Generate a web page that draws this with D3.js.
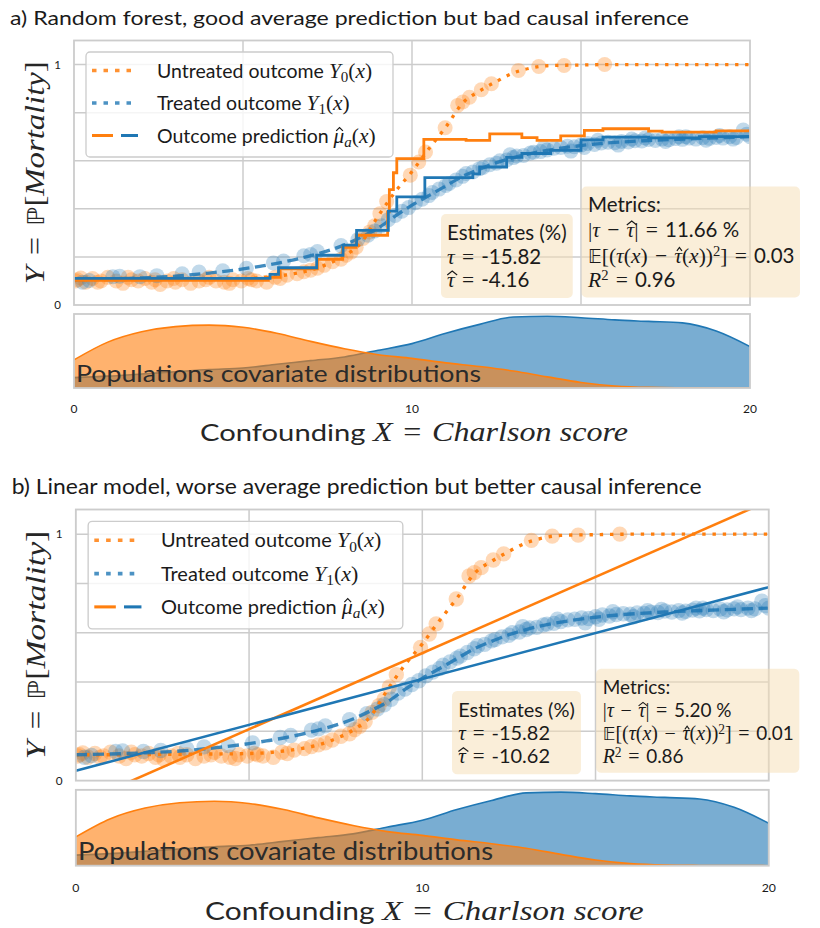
<!DOCTYPE html>
<html><head><meta charset="utf-8">
<script src="https://cdn.jsdelivr.net/npm/d3@7"></script>
<style>body{margin:0;background:#fff}svg{display:block}</style>
</head><body>
<svg id="c" width="820" height="928"></svg>
<script>
// ---------------- DATA ----------------
const curveX      = [0,1,2,3,4,5,5.5,6,6.5,7,7.5,8,8.5,9,9.5,10,10.5,11,11.5,12,12.5,13,13.5,14,15,16,17,18,19,20];
const untreatedY  = [0.105,0.105,0.106,0.107,0.108,0.110,0.113,0.120,0.130,0.145,0.170,0.205,0.260,0.370,0.470,0.555,0.650,0.740,0.840,0.890,0.930,0.965,0.985,0.995,0.998,1,1,1,1,1];
const treatedY    = [0.105,0.108,0.113,0.120,0.133,0.150,0.161,0.173,0.188,0.205,0.225,0.250,0.283,0.320,0.370,0.415,0.455,0.495,0.535,0.565,0.592,0.613,0.630,0.643,0.663,0.676,0.684,0.690,0.695,0.700];

const untreatedSampleX = [0.1,0.2,0.35,0.55,0.8,1.0,1.25,1.45,1.7,1.9,2.1,2.3,2.55,2.75,2.95,3.2,3.45,3.7,4.0,4.2,4.45,4.7,4.95,5.15,5.4,5.7,5.95,6.3,6.6,6.8,7.2,7.4,7.65,7.9,8.05,8.2,8.35,8.55,8.75,8.9,9.05,9.25,9.95,10.2,10.4,10.98,11.35,11.5,11.7,12.05,12.35,13.15,13.75,14.5,15.7,0.05,0.7,1.6,2.4,3.0,3.9,4.6,5.25,6.1,7.0];
const untreatedSampleY = [0.105,0.112,0.095,0.11,0.1,0.115,0.1,0.09,0.105,0.1,0.11,0.095,0.085,0.1,0.11,0.105,0.09,0.1,0.115,0.1,0.095,0.105,0.1,0.11,0.1,0.095,0.115,0.124,0.13,0.138,0.153,0.165,0.18,0.19,0.207,0.22,0.24,0.277,0.304,0.33,0.38,0.43,0.54,0.595,0.636,0.737,0.83,0.844,0.864,0.895,0.92,0.975,0.992,0.996,1.0,0.1,0.095,0.115,0.105,0.095,0.105,0.09,0.105,0.11,0.145];

const treatedSampleX = [0.25,0.45,1.15,1.35,1.95,2.45,3.2,3.7,4.4,5.1,5.9,6.2,6.8,7.0,7.2,7.9,8.4,8.7,8.9,9.1,9.3,9.5,9.7,9.9,10.1,10.3,10.5,10.6,10.8,11.0,11.1,11.3,11.5,11.6,11.8,12.0,12.1,12.3,12.5,12.6,12.8,13.0,13.1,13.3,13.5,13.6,13.8,14.0,14.2,14.4,14.6,14.8,15.0,15.2,15.4,15.6,15.8,16.0,16.2,16.4,16.6,16.8,17.0,17.2,17.4,17.6,17.8,18.0,18.2,18.4,18.6,18.8,19.0,19.2,19.4,19.6,19.8,20.0,12.9,13.9,14.7,15.5,16.1,16.9,17.5,18.1,18.7,19.1,19.5,19.9,17.9,16.5,15.1];
const treatedSampleY = [0.095,0.102,0.118,0.12,0.118,0.122,0.13,0.137,0.142,0.153,0.175,0.183,0.205,0.21,0.222,0.247,0.272,0.29,0.308,0.33,0.355,0.372,0.39,0.405,0.425,0.44,0.455,0.468,0.482,0.497,0.505,0.52,0.535,0.547,0.553,0.567,0.572,0.583,0.59,0.6,0.603,0.613,0.62,0.622,0.632,0.635,0.638,0.645,0.652,0.655,0.66,0.658,0.665,0.672,0.668,0.674,0.677,0.675,0.68,0.678,0.683,0.682,0.688,0.684,0.69,0.687,0.692,0.689,0.694,0.69,0.696,0.693,0.697,0.694,0.70,0.697,0.728,0.70,0.625,0.655,0.64,0.685,0.665,0.695,0.68,0.70,0.685,0.705,0.69,0.71,0.70,0.69,0.655];

// Random forest predictions (step functions: value holds from x until next x)
const rfUntreatedX = [0,5.75,6.1,7.2,7.95,8.35,9.28,9.33,9.45,9.55,10.35,11.6,12.3,13.25,13.7,14.4,15.1,15.65,17.0,17.4,19.0,20];
const rfUntreatedY = [0.103,0.115,0.15,0.19,0.24,0.29,0.387,0.48,0.55,0.609,0.689,0.685,0.712,0.696,0.685,0.703,0.726,0.733,0.723,0.719,0.724,0.724];
const rfTreatedX = [0,5.8,6.05,7.18,7.96,8.36,9.3,9.55,10.38,11.8,12.0,12.8,13.25,14.1,15.0,15.65,17.0,18.5,20];
const rfTreatedY = [0.111,0.127,0.155,0.207,0.249,0.31,0.39,0.45,0.53,0.545,0.574,0.614,0.63,0.643,0.687,0.698,0.695,0.70,0.70];

// Linear model predictions
const linX = [0, 20];
const linUntreatedY = [-0.100, 1.135];
const linTreatedY = [0.040, 0.785];

// Covariate densities
const densX = [0,1,2,3,4,5,6,7,8,9,10,11,12,13,14,15,16,17,18,19,20];
const densUntreated = [0.038,0.062,0.076,0.083,0.085,0.082,0.074,0.063,0.053,0.045,0.040,0.034,0.029,0.023,0.015,0.0075,0.0027,0.0008,0.0003,0.0001,0];
const densTreated = [0.014,0.016,0.019,0.022,0.025,0.027,0.032,0.037,0.042,0.051,0.060,0.074,0.086,0.096,0.097,0.095,0.092,0.090,0.088,0.077,0.056];

const xTicks = [0,10,20];
const yTicks = [0,1];
const yGrid = [0.2,0.4,0.6,0.8,1.0];
const xGrid = [5,10,15];

const titles = ["a) Random forest, good average prediction but bad causal inference",
                "b) Linear model, worse average prediction but better causal inference"];
const tauTrue = ["-15.82","-15.82"];
const tauHat = ["-4.16","-10.62"];
const tauErr = ["11.66 %","5.20 %"];
const cateMse = ["0.03","0.01"];
const r2 = ["0.96","0.86"];

// ---------------- DRAWING ----------------
const ORANGE='#ff7f0e', BLUE='#1f77b4', GRID='#cccccc', TXT='#1a1a1a';
const SANS="Lato, 'Open Sans', sans-serif";
const MATH="'Liberation Serif','DejaVu Serif',serif";
const BB="'DejaVu Sans','DejaVu Serif',sans-serif";
const EQ="\u2004=\u2004", MINUS="\u2004\u2212\u2004";
const svg=d3.select('#c');

function rich(parent,x,y,parts,size,opts={}){
  const fill=opts.fill||TXT;
  const ms=opts.ms||1.1;
  const t=parent.append('text').attr('x',x).attr('y',y).attr('font-size',size)
    .attr('fill',fill).attr('font-family',SANS);
  if(opts.anchor) t.attr('text-anchor',opts.anchor);
  let cur=0; const hats=[];
  for(const [s,k] of parts){
    const ts=t.append('tspan').text(s);
    let fam=SANS, st='normal', fs=size, off=0;
    if(k[0]==='m'||k[0]==='h'||k[0]==='H'){fam=MATH;st='italic';fs=size*ms;}
    else if(k[0]==='r'){fam=MATH;fs=size*ms;}
    else if(k[0]==='b'){fam=BB;fs=size*0.92;}
    if(k.endsWith('_')){fs*=0.7;off=size*0.22;}
    if(k.endsWith('^')){fs*=0.68;off=-size*0.34;}
    ts.attr('font-family',fam).attr('font-style',st).attr('font-size',fs);
    if(off!==cur){ts.attr('dy',off-cur);cur=off;}
    if(k[0]==='h'||k[0]==='H') hats.push({ts,wide:k[0]==='H',off,fs});
  }
  if(opts.len) t.attr('textLength',opts.len).attr('lengthAdjust','spacingAndGlyphs');
  hats.forEach(h=>{
    const b=h.ts.node().getBBox();
    const base=y+h.off;
    const cx=b.x+b.width*0.58;
    const hw=h.wide? b.width*0.55 : b.width*0.28;
    const yb=base-h.fs*(h.wide?0.56:0.54), yt=base-h.fs*(h.wide?0.74:0.70);
    parent.append('path').attr('d',`M${cx-hw},${yb}L${cx},${yt}L${cx+hw},${yb}`)
      .attr('fill','none').attr('stroke',fill).attr('stroke-width',h.fs*0.055).attr('stroke-linejoin','miter');
  });
  return t;
}

function drawPanel(idx, transform, spec){
  const g=svg.append('g').attr('transform',transform);
  const L=74,R=750,T=40.5,B=305,DT=314,DB=388;
  const x=d3.scaleLinear().domain([0,20]).range([L,R]);
  const y=d3.scaleLinear().domain([0,1.1]).range([B,T]);
  const yd=d3.scaleLinear().domain([0,0.1]).range([DB,DT]);

  // title
  rich(g,spec.titleX,25,[[titles[idx],'s']],spec.titleSize,{len:spec.titleLen});

  // clip
  const cid='clip'+idx, did='dclip'+idx;
  g.append('clipPath').attr('id',cid).append('rect').attr('x',L).attr('y',T).attr('width',R-L).attr('height',B-T);
  g.append('clipPath').attr('id',did).append('rect').attr('x',L).attr('y',DT).attr('width',R-L).attr('height',DB-DT);

  // grid
  g.append('g').selectAll('line').data(yGrid).join('line')
    .attr('x1',L).attr('x2',R).attr('y1',d=>y(d)).attr('y2',d=>y(d))
    .attr('stroke',GRID).attr('stroke-width',1.5);
  g.append('g').selectAll('line').data(xGrid).join('line')
    .attr('y1',T).attr('y2',B).attr('x1',d=>x(d)).attr('x2',d=>x(d))
    .attr('stroke',GRID).attr('stroke-width',1.5);

  const plot=g.append('g').attr('clip-path',`url(#${cid})`);
  // scatter
  plot.append('g').selectAll('circle').data(untreatedSampleX.map((v,i)=>[v,untreatedSampleY[i]])).join('circle')
    .attr('cx',d=>x(d[0])).attr('cy',d=>y(d[1])).attr('r',7.5).attr('fill',ORANGE).attr('fill-opacity',0.3);
  plot.append('g').selectAll('circle').data(treatedSampleX.map((v,i)=>[v,treatedSampleY[i]])).join('circle')
    .attr('cx',d=>x(d[0])).attr('cy',d=>y(d[1])).attr('r',7.5).attr('fill',BLUE).attr('fill-opacity',0.28);

  const lineC=d3.line().x(d=>x(d[0])).y(d=>y(d[1])).curve(d3.curveMonotoneX);
  plot.append('path').datum(curveX.map((v,i)=>[v,untreatedY[i]])).attr('d',lineC)
    .attr('fill','none').attr('stroke',ORANGE).attr('stroke-width',3.3).attr('stroke-dasharray','3.3,6.7');
  plot.append('path').datum(curveX.map((v,i)=>[v,treatedY[i]])).attr('d',lineC)
    .attr('fill','none').attr('stroke',BLUE).attr('stroke-width',3.3).attr('stroke-dasharray','11,5.5').attr('stroke-opacity',0.85);

  if(idx===0){
    const step=d3.line().x(d=>x(d[0])).y(d=>y(d[1])).curve(d3.curveStepAfter);
    plot.append('path').datum(rfUntreatedX.map((v,i)=>[v,rfUntreatedY[i]])).attr('d',step)
      .attr('fill','none').attr('stroke',ORANGE).attr('stroke-width',2.8);
    plot.append('path').datum(rfTreatedX.map((v,i)=>[v,rfTreatedY[i]])).attr('d',step)
      .attr('fill','none').attr('stroke',BLUE).attr('stroke-width',2.8);
  } else {
    const lin=d3.line().x(d=>x(d[0])).y(d=>y(d[1]));
    plot.append('path').datum(linX.map((v,i)=>[v,linUntreatedY[i]])).attr('d',lin)
      .attr('fill','none').attr('stroke',ORANGE).attr('stroke-width',2.5);
    plot.append('path').datum(linX.map((v,i)=>[v,linTreatedY[i]])).attr('d',lin)
      .attr('fill','none').attr('stroke',BLUE).attr('stroke-width',2.5);
  }

  // border
  g.append('rect').attr('x',L).attr('y',T).attr('width',R-L).attr('height',B-T)
    .attr('fill','none').attr('stroke',GRID).attr('stroke-width',1.8);

  // y ticks
  g.append('g').selectAll('text').data(yTicks).join('text')
    .attr('x',L-13).attr('y',d=>y(d)).attr('dy','0.35em').attr('text-anchor','end')
    .attr('font-size',11.5).attr('font-family',SANS).attr('fill',TXT).text(d=>d);

  // y label
  const yl=g.append('g').attr('transform',`translate(44,${(T+B)/2}) rotate(-90)`);
  rich(yl,0,0,[["Y",'m'],[EQ,'r'],["ℙ",'b'],["[",'r'],["Mortality",'m'],["]",'r']],25,{anchor:'middle',len:223,fill:'#262626'});

  // legend
  const lg=g.append('g');
  lg.append('rect').attr('x',86).attr('y',52).attr('width',307).attr('height',105).attr('rx',4)
    .attr('fill','#fff').attr('fill-opacity',0.8).attr('stroke',GRID).attr('stroke-width',1.3);
  const rows=[77.5,110,142.5];
  lg.append('line').attr('x1',92).attr('x2',138).attr('y1',rows[0]-7).attr('y2',rows[0]-7)
    .attr('stroke',ORANGE).attr('stroke-width',3.6).attr('stroke-dasharray','4.5,7').attr('stroke-opacity',0.85);
  lg.append('line').attr('x1',92).attr('x2',138).attr('y1',rows[1]-7).attr('y2',rows[1]-7)
    .attr('stroke',BLUE).attr('stroke-width',3.6).attr('stroke-dasharray','4.5,7').attr('stroke-opacity',0.8);
  lg.append('line').attr('x1',92).attr('x2',113).attr('y1',rows[2]-7).attr('y2',rows[2]-7)
    .attr('stroke',ORANGE).attr('stroke-width',3);
  lg.append('line').attr('x1',121).attr('x2',138).attr('y1',rows[2]-7).attr('y2',rows[2]-7)
    .attr('stroke',BLUE).attr('stroke-width',3);
  rich(lg,157,rows[0],[["Untreated outcome ",'s'],["Y",'m'],["0",'r_'],["(",'r'],["x",'m'],[")",'r']],19.5);
  rich(lg,157,rows[1],[["Treated outcome ",'s'],["Y",'m'],["1",'r_'],["(",'r'],["x",'m'],[")",'r']],19.5);
  rich(lg,157,rows[2],[["Outcome prediction ",'s'],["μ",'h'],["a",'m_'],["(",'r'],["x",'m'],[")",'r']],19.5);

  // text boxes
  function box(lines, x0, baselines, size, pad){
    const bg=g.append('g');
    const rect=bg.append('rect');
    const tg=bg.append('g');
    lines.forEach((p,i)=>rich(tg,x0,baselines[i],p,size,{ms:1.05}));
    const bb=tg.node().getBBox();
    rect.attr('x',bb.x-pad).attr('y',bb.y-pad).attr('width',bb.width+2*pad).attr('height',bb.height+2*pad)
      .attr('rx',5).attr('fill','#f5deb3').attr('fill-opacity',0.5);
  }
  box([[["Estimates (%)",'s']],
       [["τ",'m'],[EQ,'r'],[tauTrue[idx],'s']],
       [["τ",'H'],[EQ,'r'],[tauHat[idx],'s']]], 447, spec.estBase, spec.estSize, 6);
  box([[["Metrics:",'s']],
       [["|",'r'],["τ",'m'],[MINUS,'r'],["τ",'H'],["|"+EQ,'r'],[tauErr[idx],'s']],
       [["𝔼",'b'],["[(",'r'],["τ",'m'],["(",'r'],["x",'m'],[")"+MINUS,'r'],["τ",'h'],["(",'r'],["x",'m'],["))",'r'],["2",'r^'],["]"+EQ,'r'],[cateMse[idx],'s']],
       [["R",'m'],["2",'r^'],[EQ,'r'],[r2[idx],'s']]], 588, spec.metBase, spec.metSize, 5.5);

  // density subplot
  const dg=g.append('g').attr('clip-path',`url(#${did})`);
  const area=d3.area().x((d,i)=>x(densX[i])).y0(DB).y1(d=>yd(d)).curve(d3.curveMonotoneX);
  const dl=d3.line().x((d,i)=>x(densX[i])).y(d=>yd(d)).curve(d3.curveMonotoneX);
  dg.append('path').datum(densTreated).attr('d',area).attr('fill',BLUE).attr('fill-opacity',0.6);
  dg.append('path').datum(densTreated).attr('d',dl).attr('fill','none').attr('stroke',BLUE).attr('stroke-width',1.6);
  dg.append('path').datum(densUntreated).attr('d',area).attr('fill',ORANGE).attr('fill-opacity',0.6);
  dg.append('path').datum(densUntreated).attr('d',dl).attr('fill','none').attr('stroke',ORANGE).attr('stroke-width',1.6);
  g.append('rect').attr('x',L).attr('y',DT).attr('width',R-L).attr('height',DB-DT)
    .attr('fill','none').attr('stroke',GRID).attr('stroke-width',1.8);
  rich(g,76,382,[["Populations covariate distributions",'s']],24,{fill:'#2b2b2b',len:405});

  // x ticks
  g.append('g').selectAll('text').data(xTicks).join('text')
    .attr('x',d=>x(d)).attr('y',409).attr('dy','0.35em').attr('text-anchor','middle')
    .attr('font-size',12).attr('font-family',SANS).attr('fill',TXT).text(d=>d);
  // x label
  rich(g,414,441,[["Confounding ",'s'],["X",'m'],[EQ,'r'],["Charlson score",'m']],24,{anchor:'middle',len:428,fill:'#262626'});
}

drawPanel(0,'translate(0,0)',{titleX:10,titleSize:20,titleLen:679,estSize:20.5,
  estBase:[240,264,287],metBase:[212,237,262.5,287],metSize:20.5});
drawPanel(1,'translate(0,468) scale(1.025)',{titleX:11.4,titleSize:20.8,titleLen:673,estSize:19.5,
  estBase:[243,265.5,288],metBase:[220,243,265.5,288],metSize:18.5});
</script>
</body></html>
